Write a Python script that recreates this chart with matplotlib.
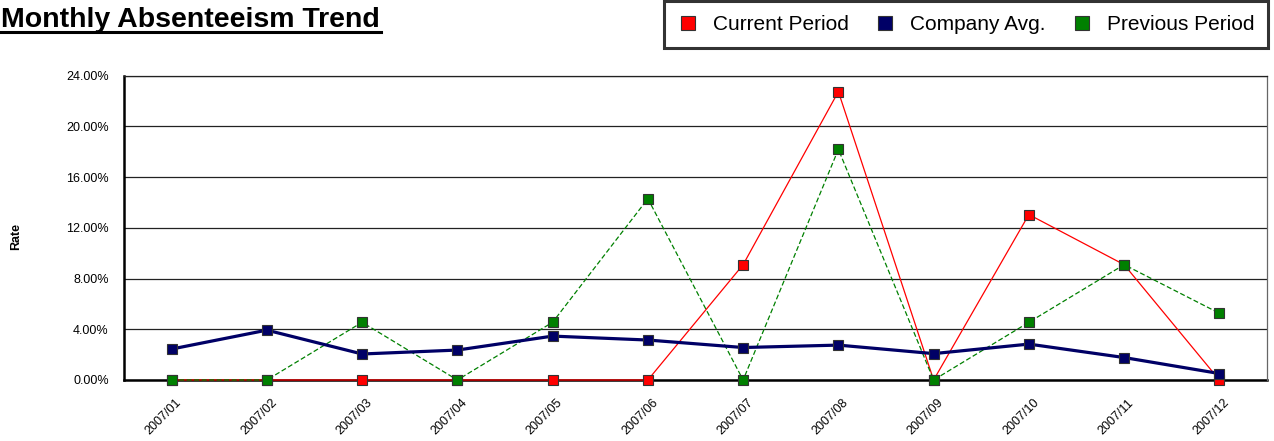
import matplotlib

matplotlib.use("Agg")
import matplotlib.pyplot as plt
from matplotlib.lines import Line2D
from matplotlib.ticker import PercentFormatter, MultipleLocator
from matplotlib.transforms import ScaledTranslation

plt.rcParams["font.family"] = ["Liberation Sans", "DejaVu Sans"]

# ── Data (rates in %) ─────────────────────────────────────────────────────────
months = ["2007/01", "2007/02", "2007/03", "2007/04", "2007/05", "2007/06",
          "2007/07", "2007/08", "2007/09", "2007/10", "2007/11", "2007/12"]
current_period = [0.0, 0.0, 0.0, 0.0, 0.0, 0.0, 9.09, 22.73, 0.0, 13.04, 9.09, 0.0]
company_avg = [2.44, 3.93, 2.05, 2.36, 3.46, 3.15, 2.56, 2.75, 2.08, 2.83, 1.77, 0.51]
previous_period = [0.0, 0.0, 4.55, 0.0, 4.55, 14.29, 0.0, 18.18, 0.0, 4.55, 9.09, 5.26]

RED = "#ff0000"
NAVY = "#000066"
GREEN = "#008000"
EDGE = "#333333"

W, H = 1274, 441
fig = plt.figure(figsize=(W / 100, H / 100), dpi=100)
ax = fig.add_axes([124 / W, 1 - 380 / H, 1143 / W, 304.5 / H])

x = range(len(months))
ax.plot(x, current_period, color=RED, lw=0.9, marker="s", ms=7,
        mfc=RED, mec=EDGE, mew=0.8, zorder=3, clip_on=False)
ax.plot(x, previous_period, color=GREEN, lw=0.9, ls=(0, (4, 2)), marker="s", ms=7,
        mfc=GREEN, mec=EDGE, mew=0.8, zorder=4, clip_on=False)
ax.plot(x, company_avg, color=NAVY, lw=2.3, marker="s", ms=7,
        mfc=NAVY, mec=EDGE, mew=0.8, zorder=5, clip_on=False)

ax.set_xlim(-0.5, len(months) - 0.5)
ax.set_ylim(0, 24)
ax.yaxis.set_major_locator(MultipleLocator(4))
ax.yaxis.set_major_formatter(PercentFormatter(decimals=2))
ax.grid(axis="y", color="#222222", lw=0.9)
ax.set_axisbelow(True)

ax.set_xticks(list(x))
ax.set_xticklabels(months, rotation=45, ha="right", va="center",
                   rotation_mode="anchor", fontsize=9)
ax.tick_params(axis="x", length=0, pad=15)
ax.tick_params(axis="y", length=0, pad=11, labelsize=9)
offset = ScaledTranslation(8 / 100, 0, fig.dpi_scale_trans)
for lab in ax.get_xticklabels():
    lab.set_transform(lab.get_transform() + offset)

for side in ["left", "bottom"]:
    ax.spines[side].set_linewidth(1.8)
    ax.spines[side].set_color("black")
    ax.spines[side].set_zorder(2)
ax.spines["top"].set_linewidth(0.9)
ax.spines["top"].set_color("#222222")
ax.spines["right"].set_linewidth(0.9)
ax.spines["right"].set_color("#666666")

ax.set_ylabel("Rate", fontsize=9, fontweight="bold")
ax.yaxis.set_label_coords(-0.089, 0.47)

# ── Title with underline ──────────────────────────────────────────────────────
fig.text(1 / W, 1 - 27 / H, "Monthly Absenteeism Trend", ha="left",
         va="baseline", fontsize=20.5, fontweight="bold")
fig.add_artist(Line2D([0, 381 / W], [1 - 32 / H, 1 - 32 / H],
                      color="black", lw=2.2, transform=fig.transFigure))

# ── Legend ────────────────────────────────────────────────────────────────────
handles = [
    Line2D([], [], ls="none", marker="s", ms=10, mfc=RED, mec=EDGE, mew=0.8),
    Line2D([], [], ls="none", marker="s", ms=10, mfc=NAVY, mec=EDGE, mew=0.8),
    Line2D([], [], ls="none", marker="s", ms=10, mfc=GREEN, mec=EDGE, mew=0.8),
]
labels = ["Current Period", "Company Avg.", "Previous Period"]
leg = fig.legend(handles, labels, loc="upper right",
                 bbox_to_anchor=(1268 / W, 1 - 1.5 / H), ncol=3, fontsize=15,
                 frameon=True, fancybox=False, borderpad=0.65,
                 handlelength=1.0, handletextpad=0.7, columnspacing=1.25,
                 borderaxespad=0)
leg.get_frame().set_edgecolor("black")
leg.get_frame().set_linewidth(2.2)

fig.savefig("out.png", dpi=100)
